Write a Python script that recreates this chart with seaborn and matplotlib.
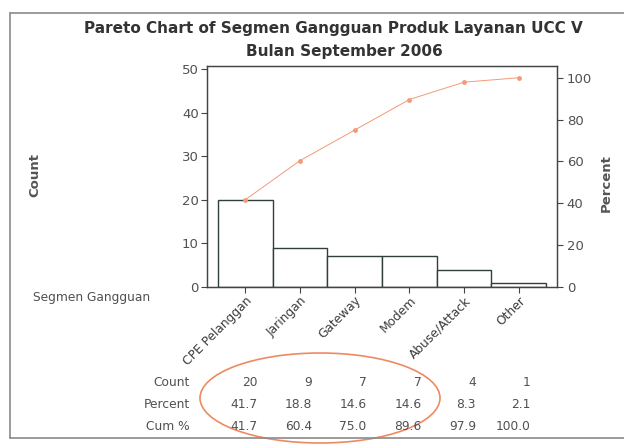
import numpy as np
import matplotlib
matplotlib.use("Agg")
import matplotlib.pyplot as plt
from matplotlib.patches import Ellipse
from matplotlib.lines import Line2D
import seaborn as sns

# Pareto data: defect segments, counts and derived percentages
categories = ["CPE Pelanggan", "Jaringan", "Gateway", "Modem", "Abuse/Attack", "Other"]
counts = [20, 9, 7, 7, 4, 1]
percent = [41.7, 18.8, 14.6, 14.6, 8.3, 2.1]
cum_percent = [41.7, 60.4, 75.0, 89.6, 97.9, 100.0]
count_ticks = [0, 10, 20, 30, 40, 50]
pct_ticks = [0, 20, 40, 60, 80, 100]

sns.set_theme(style="white")
plt.rcParams["font.family"] = ["DejaVu Sans"]

txt = "#505050"
edge = "#2f3f3c"
line_col = "#f39a78"

fig = plt.figure(figsize=(6.24, 4.45), dpi=100)
fig.patch.set_facecolor("white")
ax = fig.add_axes([207 / 624, 1 - 287 / 445, 350 / 624, 221 / 445])

sns.barplot(x=categories, y=counts, color="white", edgecolor=edge,
            linewidth=1.0, width=1.0, saturation=1, ax=ax)
total = sum(counts)
ytop = 50.7
ax.set_ylim(0, ytop)
ax.set_xlim(-0.7, len(categories) - 0.3)
ax.set_yticks(count_ticks)
ax.set_xlabel("")
ax.set_ylabel("")

ax2 = ax.twinx()
sns.lineplot(x=np.arange(len(categories)), y=cum_percent, color=line_col,
             marker="o", markersize=3.5, markeredgewidth=0, linewidth=0.7, ax=ax2)
ax2.set_ylim(0, ytop / total * 100)
ax2.set_yticks(pct_ticks)
ax2.set_ylabel("")

for a in (ax, ax2):
    for s in a.spines.values():
        s.set_color("#444444")
        s.set_linewidth(0.9)
    a.tick_params(colors="#444444", labelcolor=txt, labelsize=9.5,
                  length=4, width=0.8, direction="out")
ax.tick_params(axis="y", left=True, pad=2)
ax2.tick_params(axis="y", right=True, pad=3)
ax.tick_params(axis="x", bottom=True, pad=1)
for lab in ax.get_xticklabels():
    lab.set_rotation(45)
    lab.set_ha("right")
    lab.set_rotation_mode("anchor")
    lab.set_fontsize(8.8)
    lab.set_color("#3c3c3c")

# Titles and axis captions
fig.text(0.535, 0.935, "Pareto Chart of Segmen Gangguan Produk Layanan UCC V",
         ha="center", va="center", fontsize=11, fontweight="bold", color="#333333")
fig.text(0.552, 0.885, "Bulan September 2006", ha="center", va="center",
         fontsize=11, fontweight="bold", color="#333333")
fig.text(35 / 624, 1 - 175 / 445, "Count", rotation=90, ha="center", va="center",
         fontsize=9.5, fontweight="bold", color="#555555")
fig.text(606 / 624, 1 - 183 / 445, "Percent", rotation=90, ha="center", va="center",
         fontsize=9.5, fontweight="bold", color="#555555")
fig.text(150 / 624, 1 - 298 / 445, "Segmen Gangguan", ha="right", va="center",
         fontsize=8.8, color=txt)

# Summary table under the bars
rows = [("Count", [str(c) for c in counts]),
        ("Percent", [f"{p:.1f}" for p in percent]),
        ("Cum %", [f"{p:.1f}" for p in cum_percent])]
row_y = [383, 405, 427]
for (name, vals), py in zip(rows, row_y):
    yf = 1 - py / 445
    fig.text(190 / 624, yf, name, ha="right", va="center", fontsize=8.8, color=txt)
    for i, v in enumerate(vals):
        xd = ax.transData.transform((i + 0.22, 0))[0]
        xf = fig.transFigure.inverted().transform((xd, 0))[0]
        fig.text(xf, yf, v, ha="right", va="center", fontsize=8.8, color=txt)

# Outer frame
frame_col = "#8a8a8a"
fig.add_artist(Line2D([10 / 624, 10 / 624], [1 - 13 / 445, 1 - 438 / 445],
                      color=frame_col, lw=1.2, transform=fig.transFigure))
fig.add_artist(Line2D([10 / 624, 1], [1 - 13 / 445, 1 - 13 / 445],
                      color=frame_col, lw=1.2, transform=fig.transFigure))
fig.add_artist(Line2D([10 / 624, 1], [1 - 438 / 445, 1 - 438 / 445],
                      color=frame_col, lw=1.2, transform=fig.transFigure))

# Highlight around the first four segments
fig.add_artist(Ellipse((320 / 624, 1 - 398 / 445), width=240 / 624, height=90 / 445,
                       angle=0, fill=False, edgecolor="#ee8a62", lw=1.2,
                       transform=fig.transFigure))

fig.savefig("out.png", dpi=100, facecolor="white")
